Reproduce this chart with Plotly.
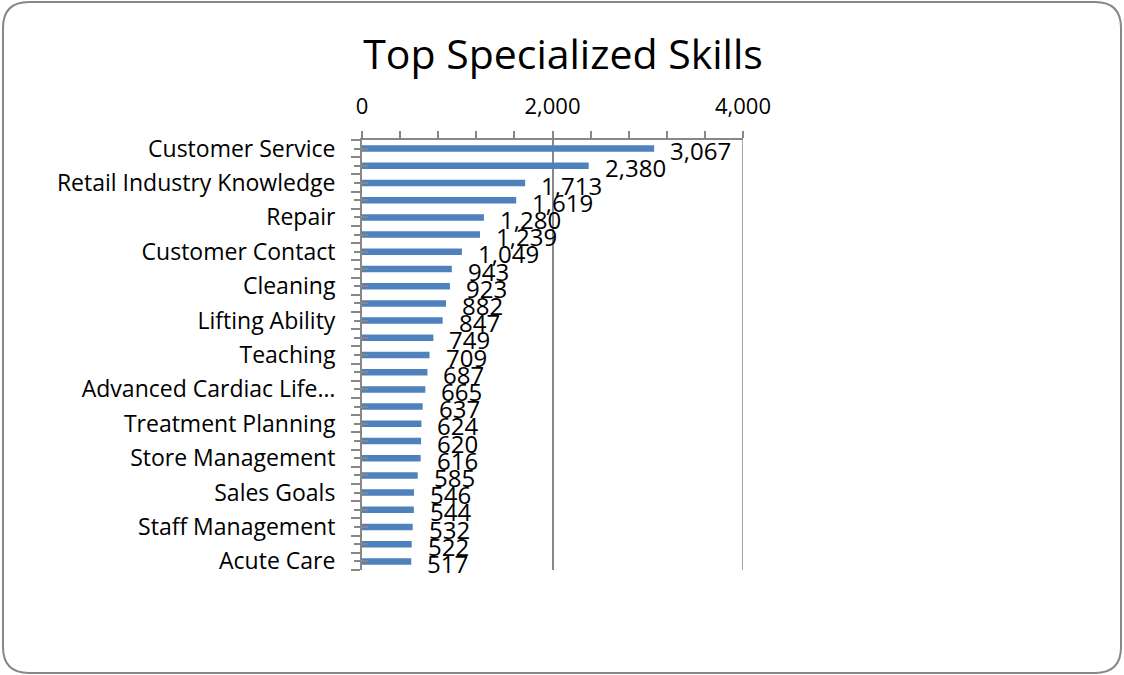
import plotly.graph_objects as go

# Skill counts, top to bottom
counts = [3067, 2380, 1713, 1619, 1280, 1239, 1049, 943, 923, 882, 847, 749, 709,
          687, 665, 637, 624, 620, 616, 585, 546, 544, 532, 522, 517]

# Axis labels (every other row carries a name)
row_labels = ["Customer Service", "", "Retail Industry Knowledge", "", "Repair", "",
              "Customer Contact", "", "Cleaning", "", "Lifting Ability", "", "Teaching", "",
              "Advanced Cardiac Life…", "", "Treatment Planning", "", "Store Management", "",
              "Sales Goals", "", "Staff Management", "", "Acute Care"]

x_ticks = [0, 2000, 4000]
x_tick_text = ["0", "2,000", "4,000"]

rows = list(range(len(counts)))

BAR = "#4F81BD"
GREY = "#878787"
FONT = "Open Sans"

W, H = 1124, 675
L, R, T, B = 362, 381, 140, 105
PW, PH = W - L - R, H - T - B

fig = go.Figure()
fig.add_trace(go.Bar(
    x=counts, y=rows, orientation="h", marker=dict(color=BAR, line=dict(width=0)),
    width=0.38, hoverinfo="skip", showlegend=False,
))
# invisible trace to attach the overlay axis carrying the inner tick marks
fig.add_trace(go.Scatter(x=[None], y=[None], yaxis="y2", showlegend=False, hoverinfo="skip"))

# value labels beside each bar
for i, v in zip(rows, counts):
    fig.add_annotation(x=v, y=i, text=f"{v:,}", showarrow=False, xanchor="left",
                       yanchor="middle", xshift=14, yshift=-2,
                       font=dict(family=FONT, size=24, color="black"))

# gridline at the right end of the value axis
fig.add_shape(type="line", xref="x", yref="paper", x0=4000, x1=4000, y0=0, y1=1,
              line=dict(color=GREY, width=1.5), layer="below")

def px(xp):
    return (xp - L) / PW

def py(yp):
    return 1 - (yp - T) / PH

# rounded frame around the whole chart
x0, x1, y0, y1, r = 3, 1121, 2, 673, 26
path = (f"M {px(x0 + r)},{py(y0)} L {px(x1 - r)},{py(y0)} "
        f"Q {px(x1)},{py(y0)} {px(x1)},{py(y0 + r)} L {px(x1)},{py(y1 - r)} "
        f"Q {px(x1)},{py(y1)} {px(x1 - r)},{py(y1)} L {px(x0 + r)},{py(y1)} "
        f"Q {px(x0)},{py(y1)} {px(x0)},{py(y1 - r)} L {px(x0)},{py(y0 + r)} "
        f"Q {px(x0)},{py(y0)} {px(x0 + r)},{py(y0)} Z")
fig.add_shape(type="path", path=path, xref="paper", yref="paper",
              line=dict(color=GREY, width=2), layer="below")

fig.update_layout(
    width=W, height=H,
    margin=dict(l=L, r=R, t=T, b=B),
    paper_bgcolor="white", plot_bgcolor="white",
    title=dict(text="Top Specialized Skills", x=563 / W, xref="container", xanchor="center",
               y=1 - 55 / H, yanchor="middle", yref="container",
               font=dict(family=FONT, size=41, color="black")),
    xaxis=dict(
        side="top", range=[0, 4000], tickvals=x_ticks, ticktext=x_tick_text,
        ticks="outside", ticklen=7, tickcolor=GREY, tickwidth=1.5,
        showline=True, linecolor=GREY, linewidth=2,
        showgrid=True, gridcolor=GREY, gridwidth=1.5, zeroline=False,
        minor=dict(dtick=400, tick0=0, ticks="outside", ticklen=7, tickcolor=GREY,
                   tickwidth=1.5, showgrid=False),
        tickfont=dict(family=FONT, size=22, color="black"), ticklabelstandoff=8,
        fixedrange=True,
    ),
    yaxis=dict(
        range=[len(counts) - 0.5, -0.5], tickvals=rows, ticktext=row_labels,
        ticks="outside", ticklen=6, tickcolor=GREY, tickwidth=1.5,
        showline=True, linecolor=GREY, linewidth=2, showgrid=False, zeroline=False,
        minor=dict(tick0=-0.5, dtick=1, ticks="outside", ticklen=9, tickcolor=GREY,
                   tickwidth=1.5, showgrid=False),
        tickfont=dict(family=FONT, size=23, color="black"), ticklabelstandoff=14,
        fixedrange=True,
    ),
    yaxis2=dict(
        overlaying="y", side="left", range=[len(counts) - 0.5, -0.5], tickvals=rows,
        showticklabels=False, ticks="inside", ticklen=6, tickcolor=GREY, tickwidth=1.5,
        showline=False, showgrid=False, zeroline=False, fixedrange=True,
    ),
    bargap=0.62,
)

fig.write_html("out.html")
